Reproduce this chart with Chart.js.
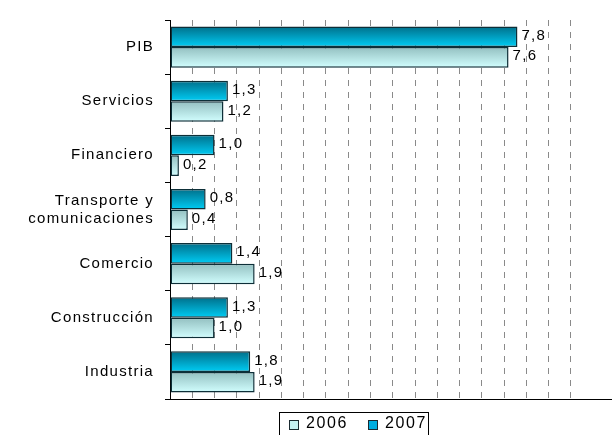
<!DOCTYPE html>
<html>
<head>
<meta charset="utf-8">
<script src="https://cdn.jsdelivr.net/npm/chart.js@4/dist/chart.umd.min.js"></script>
<style>
html,body{margin:0;padding:0;background:#fff;}
#wrap{width:612px;height:435px;position:relative;}
</style>
</head>
<body>
<div id="wrap"><canvas id="c" width="612" height="435"></canvas></div>
<script>
const categories = ['PIB', 'Servicios', 'Financiero', ['Transporte y', 'comunicaciones'], 'Comercio', 'Construcción', 'Industria'];
const values2006 = [7.6, 1.2, 0.2, 0.4, 1.9, 1.0, 1.9];
const values2007 = [7.8, 1.3, 1.0, 0.8, 1.4, 1.3, 1.8];
const seriesNames = ['2007', '2006'];

const CAT_PCT = 0.76;
const FONT = '"Liberation Sans", Arial, sans-serif';
const SPACING = '1.3px';
const LEGEND_COLORS = { '2006': '#c4f2f2', '2007': '#00aee0' };

function gradFill(top, bottom, legendColor, slot) {
  return function (ctx) {
    const chart = ctx.chart;
    if (ctx.type !== 'data' || !chart.chartArea || !chart.scales.y) return legendColor;
    const y = chart.scales.y;
    const center = y.getPixelForValue(ctx.dataIndex);
    const band = y.height / categories.length;
    const th = band * CAT_PCT / 2;
    const y0 = slot === 0 ? center - th : center;
    const g = chart.ctx.createLinearGradient(0, y0, 0, y0 + th);
    g.addColorStop(0, top);
    g.addColorStop(1, bottom);
    return g;
  };
}

const spacingPlugin = {
  id: 'spacing',
  beforeDraw(chart) { chart.ctx.letterSpacing = SPACING; },
  beforeLayout(chart) { chart.ctx.letterSpacing = SPACING; }
};

const labelPlugin = {
  id: 'vlabels',
  afterDatasetsDraw(chart) {
    const ctx = chart.ctx;
    ctx.save();
    ctx.letterSpacing = SPACING;
    ctx.font = '15px ' + FONT;
    ctx.fillStyle = '#000';
    ctx.textAlign = 'left';
    ctx.textBaseline = 'middle';
    chart.data.datasets.forEach((ds, di) => {
      const meta = chart.getDatasetMeta(di);
      meta.data.forEach((el, i) => {
        const v = ds.data[i];
        ctx.fillText(v.toFixed(1).replace('.', ','), el.x + 4, el.y - 1);
      });
    });
    ctx.restore();
  }
};

// legend drawn in canvas (order: 2006, 2007)
const legendPlugin = {
  id: 'customLegend',
  afterDraw(chart) {
    const ctx = chart.ctx;
    ctx.save();
    ctx.letterSpacing = '1.6px';
    ctx.font = '16px ' + FONT;
    ctx.textBaseline = 'middle';
    ctx.textAlign = 'left';
    const names = seriesNames.slice().reverse();
    const boxX = [289, 368];
    const cy = 425;
    ctx.strokeStyle = '#000';
    ctx.lineWidth = 1;
    ctx.strokeRect(279.5, 412.5, 149, 30);
    names.forEach((n, i) => {
      ctx.fillStyle = LEGEND_COLORS[n];
      ctx.fillRect(boxX[i], cy - 5, 10, 10);
      ctx.strokeStyle = '#1a2a30';
      ctx.strokeRect(boxX[i] + 0.5, cy - 4.5, 9, 9);
      ctx.fillStyle = '#000';
      ctx.fillText(n, boxX[i] + 17, cy - 1);
    });
    ctx.restore();
  }
};

new Chart(document.getElementById('c'), {
  type: 'bar',
  data: {
    labels: categories,
    datasets: [
      {
        label: seriesNames[0],
        data: values2007,
        backgroundColor: gradFill('#006f8a', '#00cdf5', LEGEND_COLORS['2007'], 0),
        borderColor: '#0d2f38',
        borderWidth: 1.5,
        borderSkipped: false,
        categoryPercentage: CAT_PCT,
        barPercentage: 1
      },
      {
        label: seriesNames[1],
        data: values2006,
        backgroundColor: gradFill('#93bfc0', '#d2ffff', LEGEND_COLORS['2006'], 1),
        borderColor: '#0d2f38',
        borderWidth: 1.5,
        borderSkipped: false,
        categoryPercentage: CAT_PCT,
        barPercentage: 1
      }
    ]
  },
  options: {
    indexAxis: 'y',
    responsive: false,
    animation: false,
    devicePixelRatio: 1,
    layout: { padding: { top: 11, left: 0, right: 1, bottom: 0 } },
    scales: {
      x: {
        min: 0,
        max: 9.9,
        afterBuildTicks(scale) {
          scale.ticks = scale.ticks.filter(t => Math.abs(t.value * 2 - Math.round(t.value * 2)) < 1e-6);
        },
        ticks: { display: false, stepSize: 0.5 },
        grid: {
          color: '#8a8a8a',
          drawTicks: false
        },
        border: { display: true, color: '#000', width: 1, dash: [6, 6] },
        afterFit(scale) { scale.height = 36; }
      },
      y: {
        grid: {
          offset: true,
          drawOnChartArea: false,
          tickLength: 5,
          tickColor: '#000'
        },
        border: { display: true, color: '#000', width: 1 },
        ticks: {
          color: '#000',
          padding: 11,
          font: { family: FONT, size: 15, lineHeight: 1.2 }
        },
        afterFit(scale) { scale.width = 170; }
      }
    },
    plugins: {
      legend: { display: false },
      tooltip: { enabled: false }
    }
  },
  plugins: [spacingPlugin, labelPlugin, legendPlugin]
});
</script>
</body>
</html>
